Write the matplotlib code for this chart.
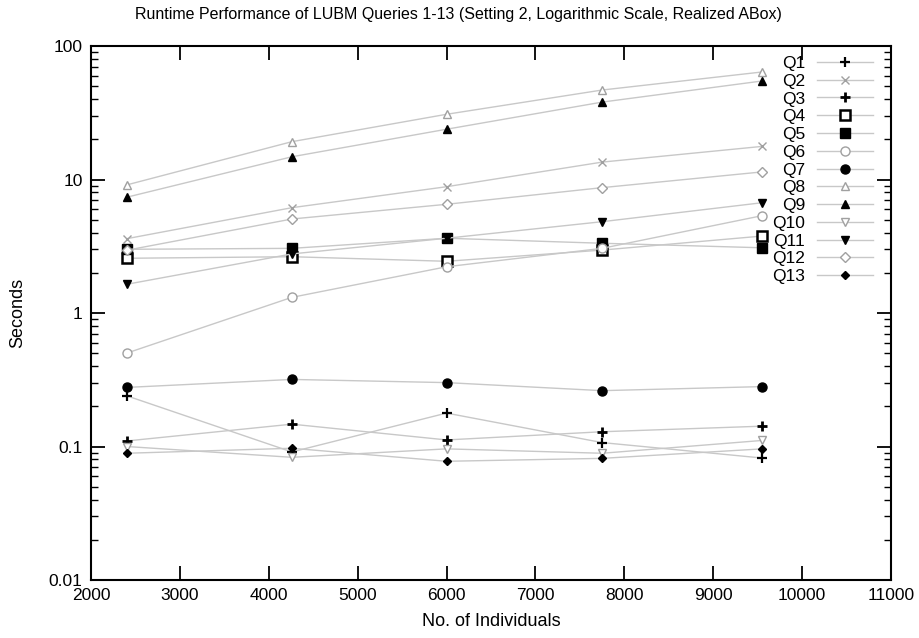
import matplotlib
matplotlib.use("Agg")
import matplotlib.pyplot as plt
from matplotlib.ticker import LogLocator, FixedLocator, NullFormatter, FixedFormatter

plt.rcParams['font.family'] = ['Liberation Sans', 'DejaVu Sans']

individuals = [2400, 4260, 6000, 7750, 9550]

queries = ["Q1", "Q2", "Q3", "Q4", "Q5", "Q6", "Q7", "Q8", "Q9", "Q10", "Q11", "Q12", "Q13"]

q1 = [0.240, 0.091, 0.178, 0.107, 0.082]
q2 = [3.60, 6.15, 8.83, 13.5, 17.7]
q3 = [0.110, 0.147, 0.112, 0.129, 0.142]
q4 = [2.57, 2.64, 2.44, 2.96, 3.77]
q5 = [3.00, 3.05, 3.63, 3.33, 3.08]
q6 = [0.50, 1.31, 2.22, 3.05, 5.36]
q7 = [0.277, 0.318, 0.301, 0.262, 0.281]
q8 = [9.1, 19.2, 30.8, 46.8, 63.9]
q9 = [7.36, 14.8, 23.8, 38.0, 54.7]
q10 = [0.100, 0.083, 0.096, 0.089, 0.111]
q11 = [1.64, 2.77, 3.63, 4.83, 6.70]
q12 = [2.95, 5.06, 6.52, 8.69, 11.4]
q13 = [0.089, 0.097, 0.0775, 0.0815, 0.096]

series = [q1, q2, q3, q4, q5, q6, q7, q8, q9, q10, q11, q12, q13]

x_ticks = [2000, 3000, 4000, 5000, 6000, 7000, 8000, 9000, 10000, 11000]
y_ticks = [0.01, 0.1, 1, 10, 100]
y_tick_labels = ["0.01", "0.1", "1", "10", "100"]

title = "Runtime Performance of LUBM Queries 1-13 (Setting 2, Logarithmic Scale, Realized ABox)"

GRAY = "#a0a0a0"
BLACK = "#000000"
LINE = "#c8c8c8"
styles = [
    dict(marker='+', ms=7.5, mew=1.6, mfc='none', mec=BLACK),
    dict(marker='x', ms=6, mew=1.0, mfc='none', mec=GRAY),
    dict(marker='+', ms=6.5, mew=2.0, mfc='none', mec=BLACK),
    dict(marker='s', ms=7, mew=1.8, mfc='white', mec=BLACK),
    dict(marker='s', ms=7.5, mew=1.0, mfc=BLACK, mec=BLACK),
    dict(marker='o', ms=6.5, mew=1.0, mfc='white', mec=GRAY),
    dict(marker='o', ms=6.5, mew=1.0, mfc=BLACK, mec=BLACK),
    dict(marker='^', ms=6, mew=1.0, mfc='white', mec=GRAY),
    dict(marker='^', ms=5.5, mew=1.0, mfc=BLACK, mec=BLACK),
    dict(marker='v', ms=6, mew=1.0, mfc='white', mec=GRAY),
    dict(marker='v', ms=5.5, mew=1.0, mfc=BLACK, mec=BLACK),
    dict(marker='D', ms=5, mew=1.0, mfc='white', mec=GRAY),
    dict(marker='D', ms=4.5, mew=1.0, mfc=BLACK, mec=BLACK),
]

fig = plt.figure(figsize=(9.2, 6.38), dpi=100)
ax = fig.add_axes([0.0989, 0.0909, 0.8696, 0.837])

for name, vals, st in zip(queries, series, styles):
    ax.plot(individuals, vals, color=LINE, lw=1.0, label=name, **st)

ax.set_yscale('log')
ax.set_xlim(2000, 11000)
ax.set_ylim(0.01, 100)

ax.xaxis.set_major_locator(FixedLocator(x_ticks))
ax.yaxis.set_major_locator(FixedLocator(y_ticks))
ax.yaxis.set_major_formatter(FixedFormatter(y_tick_labels))
ax.yaxis.set_minor_locator(LogLocator(base=10, subs=range(2, 10), numticks=20))
ax.yaxis.set_minor_formatter(NullFormatter())

ax.tick_params(axis='both', which='major', direction='in', length=10, width=1.3,
               top=True, right=True, labelsize=12.5, pad=6)
ax.tick_params(axis='y', which='minor', direction='in', length=5, width=1.0, right=True)
for s in ax.spines.values():
    s.set_linewidth(1.5)

fig.text(0.498, 0.977, title, fontsize=11.5, ha='center', va='center')
ax.set_xlabel("No. of Individuals", fontsize=13, labelpad=7)
ax.set_ylabel("Seconds", fontsize=13, labelpad=16)

leg = ax.legend(loc='upper right', bbox_to_anchor=(0.99, 1.001), frameon=False,
                markerfirst=False, fontsize=12.5, handlelength=3.2, handletextpad=0.7,
                labelspacing=0.15, borderaxespad=0.2)

fig.savefig("out.png", dpi=100)
